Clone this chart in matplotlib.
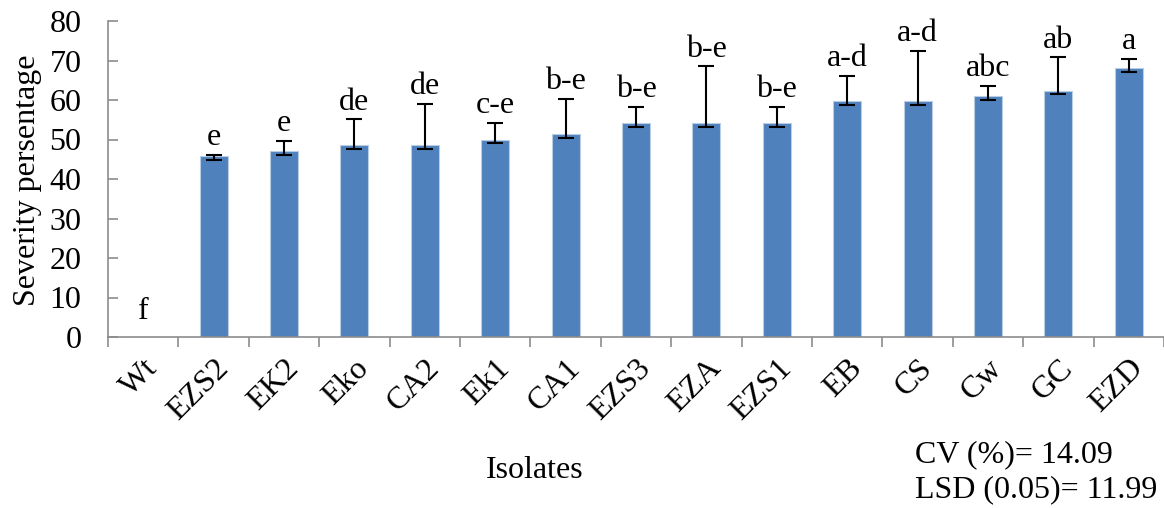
import matplotlib
matplotlib.use("Agg")
import matplotlib.pyplot as plt
import numpy as np

plt.rcParams['font.family'] = ['Liberation Serif', 'DejaVu Serif']

isolates = ["Wt", "EZS2", "EK2", "Eko", "CA2", "Ek1", "CA1", "EZS3",
            "EZA", "EZS1", "EB", "CS", "Cw", "GC", "EZD"]
severity = [0.0, 45.8, 47.2, 48.6, 48.6, 50.0, 51.4, 54.1,
            54.1, 54.1, 59.7, 59.7, 61.1, 62.4, 68.0]
err_minus = [0.0, 1.0, 1.0, 1.0, 1.0, 1.0, 1.0, 1.0,
             1.0, 1.0, 1.0, 1.0, 1.0, 1.0, 1.0]
err_plus = [0.0, 0.3, 2.5, 6.5, 10.5, 4.2, 8.8, 4.2,
            14.4, 4.2, 6.4, 12.7, 2.4, 8.4, 2.5]
groups = ["f", "e", "e", "de", "de", "c-e", "b-e", "b-e",
          "b-e", "b-e", "a-d", "a-d", "abc", "ab", "a"]
stats_lines = ["CV (%)= 14.09", "LSD (0.05)= 11.99"]

fs = 23
fig = plt.figure(figsize=(11.64, 5.08), dpi=100)
ax = fig.add_axes([108 / 1164, 1 - 337 / 508, 1 - 108 / 1164, (337 - 21) / 508])

x = np.arange(len(isolates))
ax.bar(x, severity, width=0.4, color="#4F81BD", edgecolor="#B9CDE5",
       linewidth=0.8, zorder=2)
has_err = np.array(err_plus) > 0
ax.errorbar(x[has_err], np.array(severity)[has_err],
            yerr=[np.array(err_minus)[has_err], np.array(err_plus)[has_err]],
            fmt="none", ecolor="black", elinewidth=1.5, capsize=6,
            capthick=1.5, zorder=3)

for xi, v, ep, g in zip(x, severity, err_plus, groups):
    ax.annotate(g, (xi, v + ep), xytext=(0, 7 if v > 0 else 13),
                textcoords="offset points", ha="center", va="baseline",
                fontsize=fs)

ax.set_xlim(-0.5, len(isolates) - 0.5)
ax.set_ylim(0, 80)
ax.set_yticks(np.arange(0, 81, 10))
ax.tick_params(axis="y", direction="in", length=7, width=1.2,
               color="#8C8C8C", labelsize=fs, pad=19)

ax.set_xticks(x)
ax.set_xticklabels(isolates, rotation=45, ha="right",
                   rotation_mode="anchor", fontsize=fs)
ax.tick_params(axis="x", which="major", length=0, pad=12)
ax.set_xticks(np.arange(-0.5, len(isolates), 1.0), minor=True)
ax.tick_params(axis="x", which="minor", direction="out", length=7,
               width=1.2, color="#8C8C8C")

for side in ("top", "right"):
    ax.spines[side].set_visible(False)
for side in ("left", "bottom"):
    ax.spines[side].set_color("#8C8C8C")
    ax.spines[side].set_linewidth(1.2)

fig.text(28 / 1164, 1 - 180 / 508, "Severity persentage", rotation=90,
         ha="center", va="center", fontsize=fs)
fig.text(535 / 1164, 1 - 470 / 508, "Isolates", ha="center", va="center",
         fontsize=fs)
fig.text(915 / 1164, 1 - 455 / 508, stats_lines[0], ha="left", va="center",
         fontsize=fs)
fig.text(915 / 1164, 1 - 490 / 508, stats_lines[1], ha="left", va="center",
         fontsize=fs)

fig.savefig("out.png", dpi=100)
